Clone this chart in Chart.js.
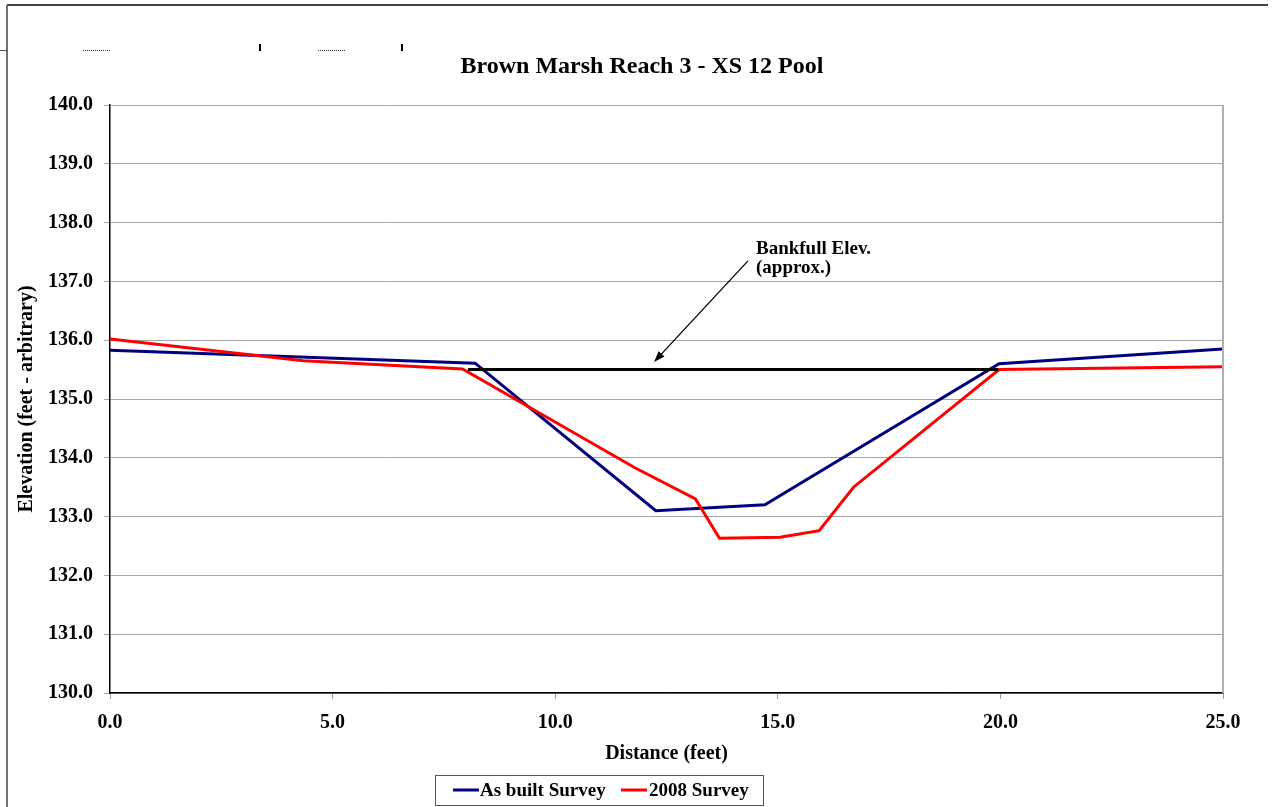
<!DOCTYPE html>
<html>
<head>
<meta charset="utf-8">
<title>Brown Marsh Reach 3 - XS 12 Pool</title>
<script src="https://cdn.jsdelivr.net/npm/chart.js@4.4.1/dist/chart.umd.min.js"></script>
<style>
    html, body { margin: 0; padding: 0; background: #fff; }
    canvas { display: block; }
</style>
</head>
<body>
<canvas id="xsChart" width="1272" height="807"></canvas>
<script>
// Survey data (distance in feet, elevation in feet)
const asBuiltX = [0, 8.2, 12.26, 14.71, 19.97, 25];
const asBuiltY = [135.83, 135.61, 133.10, 133.20, 135.60, 135.85];

const survey2008X = [0, 4.34, 7.92, 11.79, 13.15, 13.69, 15.05, 15.93, 16.70, 19.97, 25];
const survey2008Y = [136.02, 135.65, 135.51, 133.83, 133.30, 132.63, 132.65, 132.76, 133.50, 135.50, 135.55];

const bankfullX = [8.04, 19.95];
const bankfullY = [135.5, 135.5];

const xTicks = [0, 5, 10, 15, 20, 25];
const yTicks = [130, 131, 132, 133, 134, 135, 136, 137, 138, 139, 140];

const toPoints = (xs, ys) => xs.map((x, i) => ({ x: x, y: ys[i] }));

const FONT = '"Liberation Serif", "Times New Roman", Times, serif';
Chart.defaults.font.family = FONT;
Chart.defaults.color = '#000';

// Frame, title, annotation, plot border and legend box
const decorPlugin = {
    id: 'decor',
    afterDraw(chart) {
        const ctx = chart.ctx;
        const area = chart.chartArea;
        const xs = chart.scales.x;
        const ys = chart.scales.y;
        ctx.save();

        // outer frame (top and left only)
        ctx.lineWidth = 2;
        ctx.strokeStyle = '#444';
        ctx.beginPath();
        ctx.moveTo(7, 5);
        ctx.lineTo(1268, 5);
        ctx.stroke();
        ctx.strokeStyle = '#707070';
        ctx.beginPath();
        ctx.moveTo(7, 5);
        ctx.lineTo(7, 807);
        ctx.stroke();
        ctx.lineWidth = 1;
        ctx.strokeStyle = '#555';
        ctx.beginPath();
        ctx.moveTo(0, 50.5);
        ctx.lineTo(7, 50.5);
        ctx.stroke();

        // leftover marks near the top
        ctx.strokeStyle = '#333';
        ctx.setLineDash([1, 1]);
        ctx.beginPath();
        ctx.moveTo(83, 50.5); ctx.lineTo(111, 50.5);
        ctx.moveTo(318, 50.5); ctx.lineTo(346, 50.5);
        ctx.stroke();
        ctx.setLineDash([]);
        ctx.lineWidth = 2;
        ctx.strokeStyle = '#000';
        ctx.beginPath();
        ctx.moveTo(260, 44); ctx.lineTo(260, 51);
        ctx.moveTo(402, 44); ctx.lineTo(402, 51);
        ctx.stroke();

        // title
        ctx.fillStyle = '#000';
        ctx.font = 'bold 24px ' + FONT;
        ctx.textAlign = 'center';
        ctx.textBaseline = 'alphabetic';
        ctx.fillText('Brown Marsh Reach 3 - XS 12 Pool', 642, 73);

        // right border of plot area
        ctx.lineWidth = 2;
        ctx.strokeStyle = '#b0b0b0';
        ctx.beginPath();
        ctx.moveTo(area.right, area.top);
        ctx.lineTo(area.right, area.bottom);
        ctx.stroke();

        // bankfull annotation with arrow
        const tipX = xs.getPixelForValue(12.22), tipY = ys.getPixelForValue(135.63);
        const tailX = xs.getPixelForValue(14.33), tailY = ys.getPixelForValue(137.35);
        const ang = Math.atan2(tipY - tailY, tipX - tailX);
        ctx.lineWidth = 1.3;
        ctx.strokeStyle = '#000';
        ctx.beginPath();
        ctx.moveTo(tailX, tailY);
        ctx.lineTo(tipX - 8 * Math.cos(ang), tipY - 8 * Math.sin(ang));
        ctx.stroke();
        ctx.beginPath();
        ctx.moveTo(tipX, tipY);
        ctx.lineTo(tipX - 11 * Math.cos(ang) + 4 * Math.sin(ang), tipY - 11 * Math.sin(ang) - 4 * Math.cos(ang));
        ctx.lineTo(tipX - 11 * Math.cos(ang) - 4 * Math.sin(ang), tipY - 11 * Math.sin(ang) + 4 * Math.cos(ang));
        ctx.closePath();
        ctx.fillStyle = '#000';
        ctx.fill();

        const txtX = xs.getPixelForValue(14.51), txtY = ys.getPixelForValue(137.47);
        ctx.font = 'bold 19px ' + FONT;
        ctx.textAlign = 'left';
        ctx.fillText('Bankfull Elev.', txtX, txtY);
        ctx.fillText('(approx.)', txtX, txtY + 19);

        // legend box
        ctx.lineWidth = 1;
        ctx.strokeStyle = '#555';
        ctx.fillStyle = '#fff';
        ctx.fillRect(435, 775, 328, 30);
        ctx.strokeRect(435.5, 775.5, 328, 30);
        ctx.font = 'bold 19px ' + FONT;
        ctx.textBaseline = 'middle';
        const legendItems = chart.data.datasets.filter(d => d.label);
        const slots = [{ line: 453, text: 480 }, { line: 621, text: 649 }];
        legendItems.forEach((d, i) => {
            const s = slots[i];
            ctx.strokeStyle = d.borderColor;
            ctx.lineWidth = 3;
            ctx.beginPath();
            ctx.moveTo(s.line, 790);
            ctx.lineTo(s.line + 26, 790);
            ctx.stroke();
            ctx.fillStyle = '#000';
            ctx.fillText(d.label, s.text, 791);
        });

        ctx.restore();
    }
};

const ctx = document.getElementById('xsChart');

new Chart(ctx, {
    type: 'line',
    data: {
        datasets: [
            {
                label: 'As built Survey',
                data: toPoints(asBuiltX, asBuiltY),
                borderColor: '#000080',
                borderWidth: 3,
                pointRadius: 0,
                tension: 0,
                order: 2
            },
            {
                label: '2008 Survey',
                data: toPoints(survey2008X, survey2008Y),
                borderColor: '#ff0000',
                borderWidth: 3,
                pointRadius: 0,
                tension: 0,
                order: 1
            },
            {
                label: '',
                data: toPoints(bankfullX, bankfullY),
                borderColor: '#000',
                borderWidth: 3,
                pointRadius: 0,
                tension: 0,
                order: 0
            }
        ]
    },
    options: {
        responsive: false,
        animation: false,
        devicePixelRatio: 1,
        layout: {
            padding: { left: 0, top: 105, right: 49, bottom: 0 }
        },
        plugins: {
            legend: { display: false },
            title: { display: false },
            tooltip: { enabled: false }
        },
        scales: {
            x: {
                type: 'linear',
                min: 0,
                max: 25,
                afterBuildTicks: function (scale) {
                    scale.ticks = xTicks.map(v => ({ value: v }));
                },
                afterFit: function (scale) { scale.height = 114; },
                grid: {
                    drawOnChartArea: false,
                    color: '#a0a0a0',
                    tickLength: 6
                },
                border: { color: '#000', width: 1.5 },
                ticks: {
                    padding: 12,
                    maxRotation: 0,
                    font: { size: 20, weight: 'bold' },
                    callback: v => v.toFixed(1)
                },
                title: {
                    display: true,
                    text: 'Distance (feet)',
                    font: { size: 20, weight: 'bold' },
                    padding: { top: 0, bottom: 41 }
                }
            },
            y: {
                type: 'linear',
                min: 130,
                max: 140,
                afterBuildTicks: function (scale) {
                    scale.ticks = yTicks.map(v => ({ value: v }));
                },
                afterFit: function (scale) { scale.width = 110; },
                grid: {
                    color: '#a6a6a6',
                    tickLength: 6
                },
                border: { color: '#000', width: 1.5 },
                ticks: {
                    padding: 11,
                    font: { size: 20, weight: 'bold' },
                    callback: v => v.toFixed(1)
                },
                title: {
                    display: true,
                    text: 'Elevation (feet - arbitrary)',
                    font: { size: 20, weight: 'bold' },
                    padding: { top: 15, bottom: 0 }
                }
            }
        }
    },
    plugins: [decorPlugin]
});
</script>
</body>
</html>
